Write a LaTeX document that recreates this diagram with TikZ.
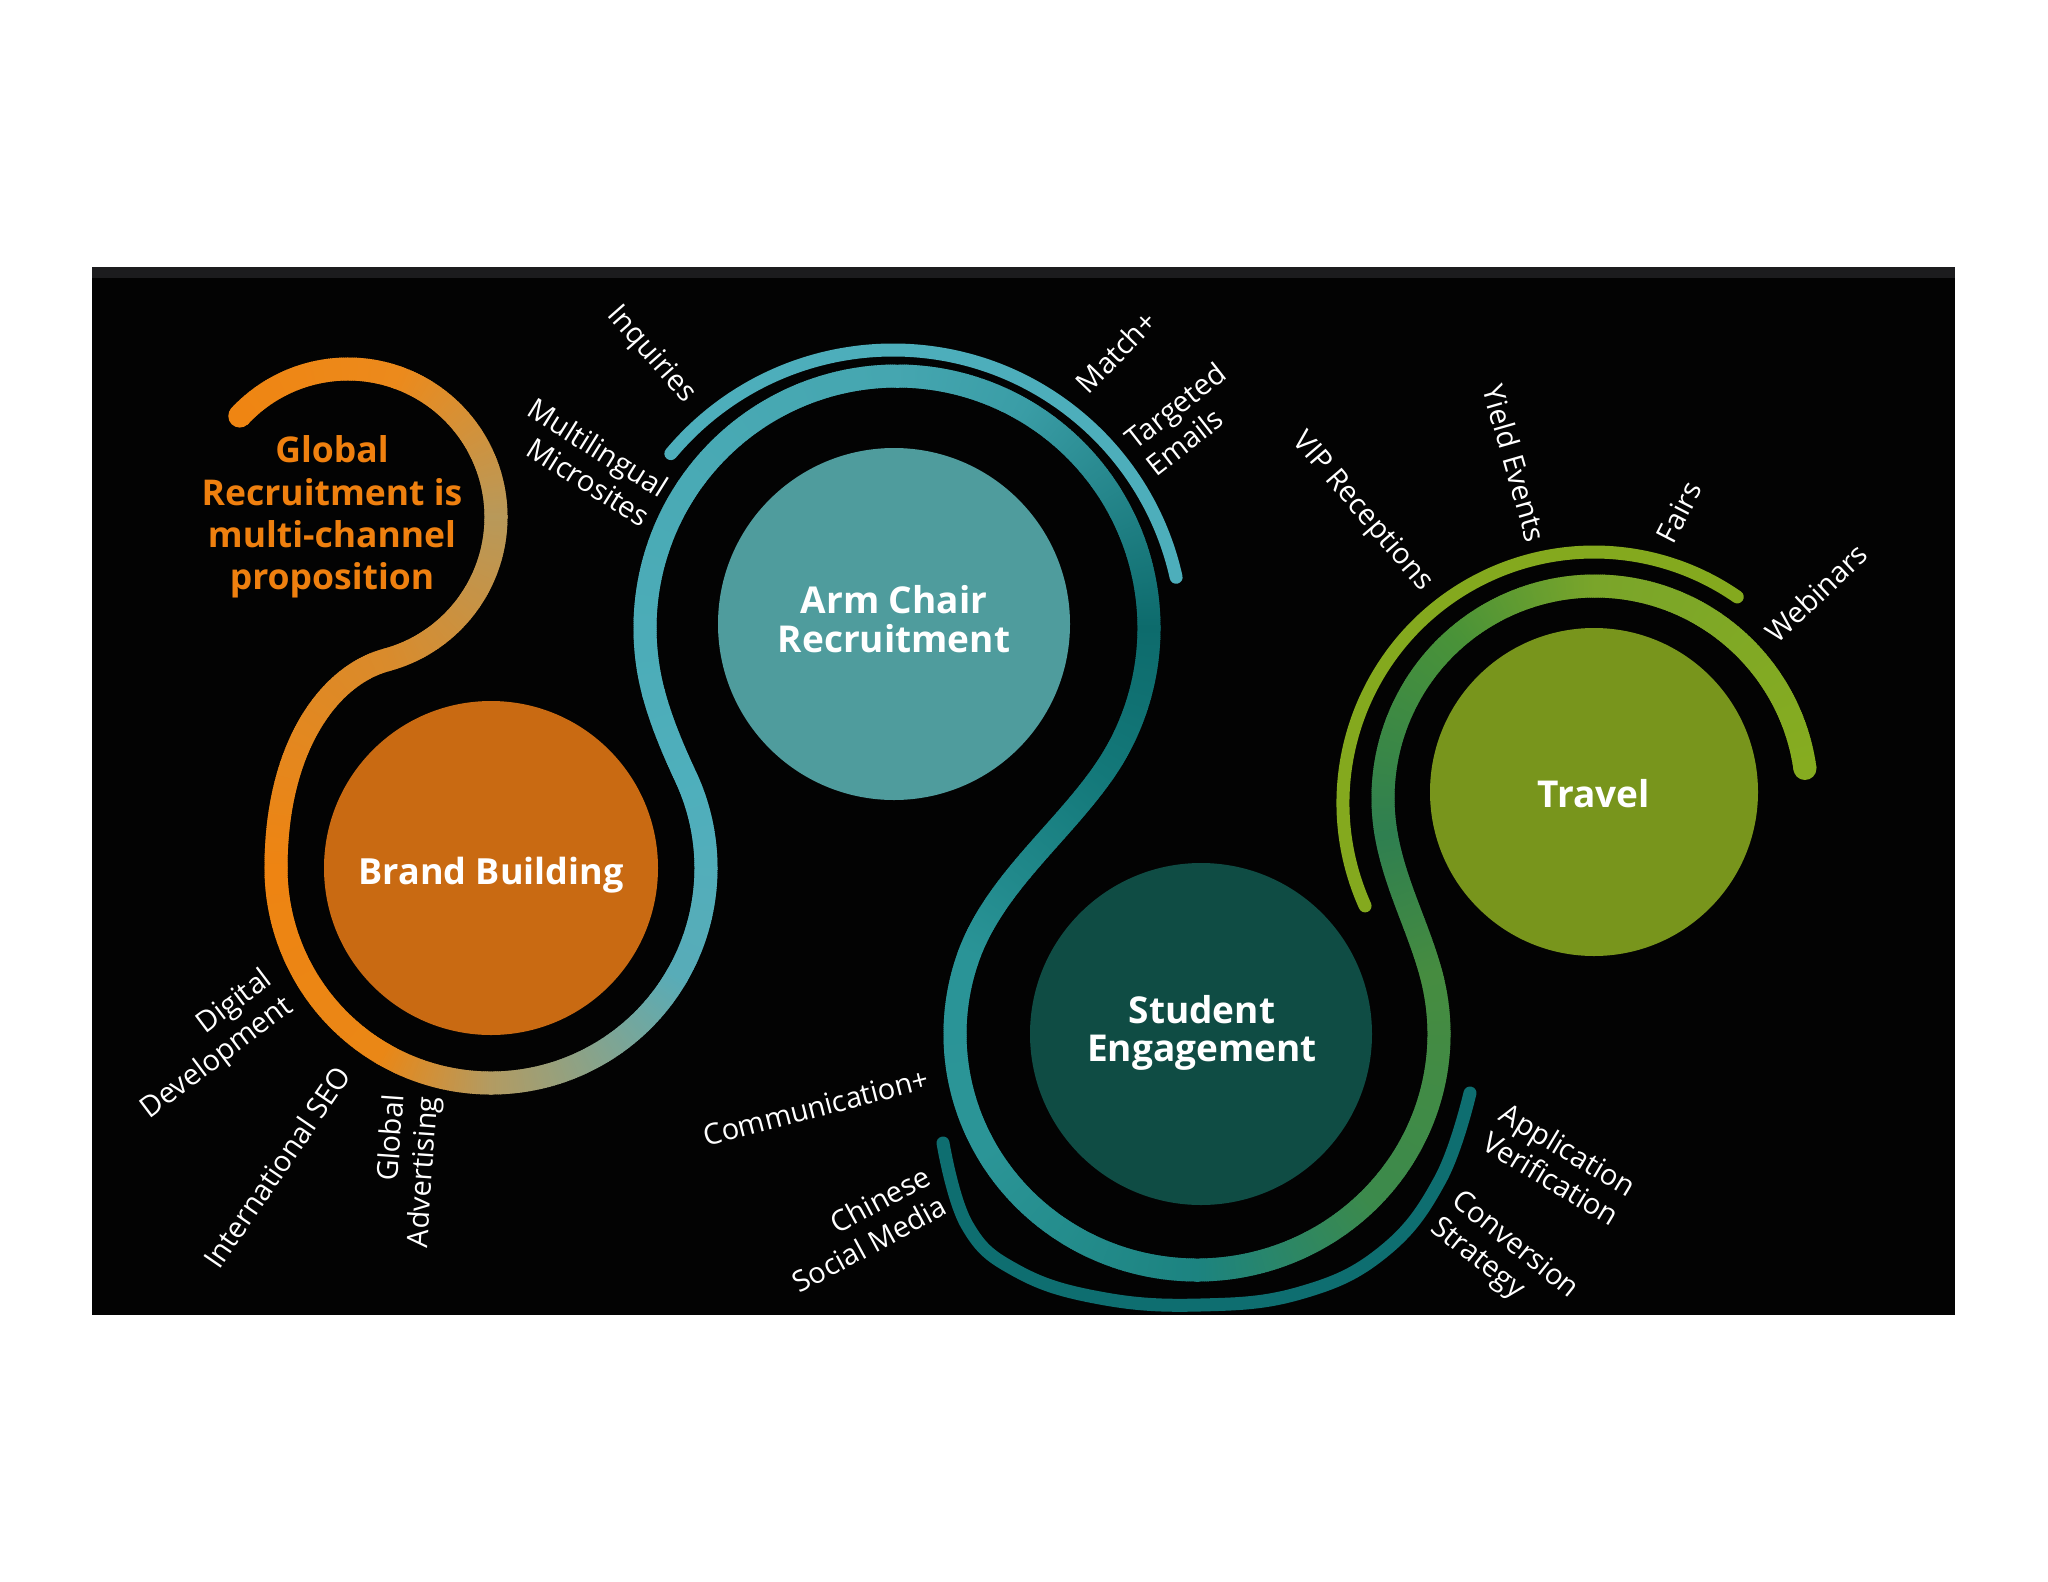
\documentclass[tikz,border=0pt]{standalone}
\usepackage{fontspec}
\setmainfont{Open Sans}
\usetikzlibrary{calc,decorations.markings}

\definecolor{pagebg}{HTML}{FFFFFF}
\definecolor{panel}{HTML}{030303}
\definecolor{panelband}{HTML}{1C1C1E}
\definecolor{bbfill}{HTML}{C96A12}
\definecolor{acfill}{HTML}{4F9C9D}
\definecolor{sefill}{HTML}{0F4C44}
\definecolor{trfill}{HTML}{78951C}
\definecolor{gtxt}{HTML}{EF800F}
\definecolor{acthin}{HTML}{4DAEBB}
\definecolor{trthin}{HTML}{84A91E}
\definecolor{sethin}{HTML}{0E6E70}
% colour stops of the main ribbon
\definecolor{m0}{HTML}{EF8512}
\definecolor{m1}{HTML}{EC8A1C}
\definecolor{m2}{HTML}{B8995A}
\definecolor{m3}{HTML}{D98B2C}
\definecolor{m4}{HTML}{EE8412}
\definecolor{m5}{HTML}{EA8716}
\definecolor{m6}{HTML}{B39B62}
\definecolor{m7}{HTML}{58ACB8}
\definecolor{m8}{HTML}{4EAFBC}
\definecolor{m9}{HTML}{4DADB9}
\definecolor{m10}{HTML}{45A6B0}
\definecolor{m11}{HTML}{3A9DA6}
\definecolor{m12}{HTML}{0D6B6C}
\definecolor{m13}{HTML}{137879}
\definecolor{m14}{HTML}{2A9497}
\definecolor{m15}{HTML}{2B9597}
\definecolor{m16}{HTML}{1C8380}
\definecolor{m17}{HTML}{3C8A4C}
\definecolor{m18}{HTML}{468C40}
\definecolor{m19}{HTML}{2F7F50}
\definecolor{m20}{HTML}{4A9338}
\definecolor{m21}{HTML}{7AA52A}
\definecolor{m22}{HTML}{86AC20}

% a ribbon piece whose colour runs from #1 to #2 along the path #3
\newcommand\gseg[3]{%
  \colorlet{gsegA}{#1}\colorlet{gsegB}{#2}%
  \path[decorate,decoration={markings,
    mark=between positions 0 and 1 step 2pt with {%
      \pgfmathsetmacro\gsegp{min(100,max(0,(\pgfkeysvalueof{/pgf/decoration/mark info/distance from start}/\pgfdecoratedpathlength)*100))}%
      \fill[gsegB!\gsegp!gsegA] (-1.5pt,-11.5pt) rectangle (1.5pt,11.5pt);}}] #3;}
\newcommand\garc[7]{\gseg{#1}{#2}{($(#3,#4)+(#6:#5)$) arc[start angle=#6,end angle=#7,radius=#5]}}
\newcommand\gell[8]{\gseg{#1}{#2}{($(#3,#4)+({#5*cos(#7)},{#6*sin(#7)})$) arc[start angle=#7,end angle=#8,x radius=#5,y radius=#6]}}

\begin{document}
\begin{tikzpicture}[x=1pt,y=1pt,yscale=-1,
  circ/.style={circle,inner sep=0pt,draw=none},
  ctext/.style={text=white,align=center,inner sep=0pt,font=\bfseries\fontsize{37}{38.5}\selectfont},
  lbl/.style={text=white,inner sep=0pt,font=\fontsize{29}{34}\selectfont},
  thinarc/.style={line width=13pt,line cap=round}]
\fill[pagebg] (0,0) rectangle (2048,1582);
\useasboundingbox (0,0) rectangle (2048,1582);
\fill[panel] (92,267) rectangle (1955,1315);
\fill[panelband] (92,267) rectangle (1955,278);

% circles
\node[circ,fill=bbfill,minimum size=334pt] (bb) at (491,868) {};
\node[circ,fill=acfill,minimum size=352pt] (ac) at (894,624) {};
\node[circ,fill=sefill,minimum size=342pt] (se) at (1201,1034) {};
\node[circ,fill=trfill,minimum size=328pt] (tr) at (1594,792) {};

% thin outer arcs
\draw[thinarc,acthin] ($(893,640)+(220:290)$) arc[start angle=220,end angle=347.5,radius=290];
\draw[thinarc,trthin] ($(1594,803)+(155.8:251)$) arc[start angle=155.8,end angle=304.8,radius=251];
\draw[thinarc,sethin] plot[smooth,tension=0.7] coordinates {(943,1143) (967,1225) (1017,1271) (1100,1298) (1200,1305) (1300,1293) (1383,1252) (1440,1180) (1470,1093)};

% main ribbon
\fill[m0] ($(348,517)+(223:148)$) circle[radius=11.5];
\garc{m0}{m1}{348}{517}{148}{223}{290}
\garc{m1}{m2}{348}{517}{148}{290}{360}
\garc{m2}{m3}{348}{517}{148}{360}{435}
\gseg{m3}{m4}{($(348,517)+(435:148)$) .. controls +(165:60) and +(-90:120) .. ($(491,868)+(180:215)$)}
\garc{m4}{m5}{491}{868}{215}{180}{120}
\garc{m5}{m6}{491}{868}{215}{120}{90}
\garc{m6}{m7}{491}{868}{215}{90}{30}
\garc{m7}{m8}{491}{868}{215}{30}{-25}
\gseg{m8}{m9}{($(491,868)+(-25:215)$) .. controls +(-115:30) and +(75:30) .. ($(897,628)+(165:252)$)}
\garc{m9}{m10}{897}{628}{252}{165}{270}
\garc{m10}{m11}{897}{628}{252}{270}{300}
\garc{m11}{m12}{897}{628}{252}{300}{360}
\garc{m12}{m13}{897}{628}{252}{360}{395}
\gseg{m13}{m14}{($(897,628)+(395:252)$) .. controls +(125:75) and +(290.8:75) .. (969.6,953.3)}
\gell{m14}{m15}{1197}{1034}{242}{236}{200}{150}
\gell{m15}{m16}{1197}{1034}{242}{236}{150}{90}
\gell{m16}{m17}{1197}{1034}{242}{236}{90}{45}
\gell{m17}{m18}{1197}{1034}{242}{236}{45}{-15}
\gseg{m18}{m19}{(1430.8,972.9) .. controls +(-105.6:50) and +(80:50) .. ($(1595,798)+(170:212)$)}
\garc{m19}{m20}{1595}{798}{212}{170}{230}
\garc{m20}{m21}{1595}{798}{212}{230}{270}
\garc{m21}{m22}{1595}{798}{212}{270}{352}
\fill[m22] ($(1595,798)+(352:212)$) circle[radius=11.5];

% title
\node[text=gtxt,align=center,inner sep=0pt,font=\bfseries\fontsize{35.5}{42.3}\selectfont] (gtitle) at (332,517) {Global\\Recruitment is\\multi-channel\\proposition};

% circle labels
\node[ctext,font=\bfseries\fontsize{36}{38.5}\selectfont] (bbl) at (491,875) {Brand Building};
\node[ctext] (acl) at (894,619) {Arm Chair\\Recruitment};
\node[ctext] (sel) at (1202,1033) {Student\\Engagement};
\node[ctext] (trl) at (1594,794) {Travel};

% channel labels
\node[lbl,rotate=-48.5] (l1) at (651,355) {Inquiries};
\node[lbl,rotate=-32,align=right] (l2) at (589,462) {Multilingual\\Microsites};
\node[lbl,rotate=46] (l3) at (1116,352) {Match+};
\node[lbl,rotate=38,align=left] (l4) at (1186,419) {Targeted\\Emails};
\node[lbl,rotate=-49.4] (l5) at (1362,512) {VIP Receptions};
\node[lbl,rotate=-74] (l6) at (1515,463) {Yield Events};
\node[lbl,rotate=62.8] (l7) at (1679,512) {Fairs};
\node[lbl,rotate=43.3] (l8) at (1816,593) {Webinars};
\node[lbl,rotate=37,align=right] (l9) at (207,1045) {Digital\\Development};
\node[lbl,rotate=55.7] (l10) at (277,1167) {International SEO};
\node[lbl,rotate=86,align=right] (l11) at (408,1171) {Global\\Advertising};
\node[lbl,rotate=14.5] (l12) at (816,1107) {Communication+};
\node[lbl,rotate=28.5,align=right] (l13) at (861,1229) {Chinese\\Social Media};
\node[lbl,rotate=-31,align=left] (l14) at (1560,1164) {Application\\Verification};
\node[lbl,rotate=-38.7,align=left] (l15) at (1504,1259) {Conversion\\Strategy};
\end{tikzpicture}
\end{document}
